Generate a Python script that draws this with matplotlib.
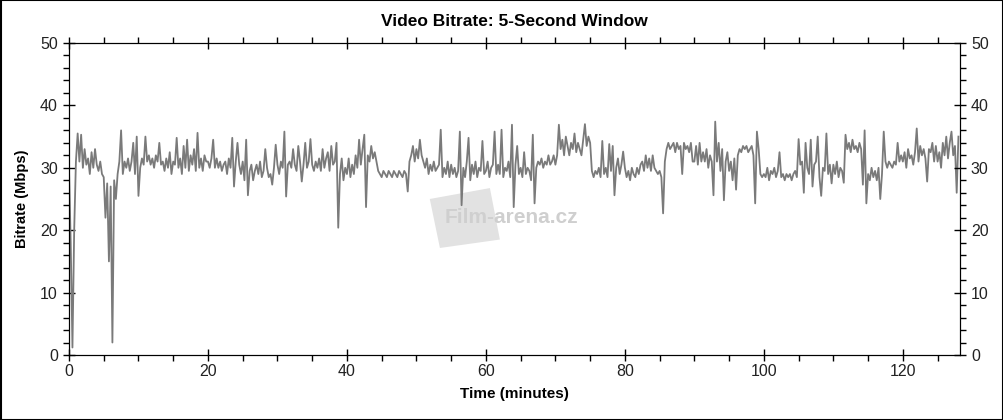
import numpy as np
import matplotlib
matplotlib.use("Agg")
import matplotlib.pyplot as plt
from matplotlib.patches import Rectangle, Polygon
from matplotlib.ticker import MultipleLocator

plt.rcParams['font.family'] = ['Liberation Sans', 'DejaVu Sans']

# bitrate (Mbps) sampled every 0.25 min, one list per 10 minutes
seg_00 = [30, 18, 1.2, 20, 31, 35.5, 31, 35.3, 30, 33, 30.5, 31.5, 29, 32.5, 30, 33,
          30.5, 29.5, 31, 29, 28.5, 22, 27.5, 15, 27, 2, 28, 25, 29, 31, 36, 29,
          31, 30, 31.5, 29.5, 31, 34, 29, 35]
seg_10 = [25.5, 30, 31.5, 30.5, 35, 31, 32, 30.5, 31.5, 30, 32, 31, 34, 30.5, 31, 29.5,
          31.5, 30, 32.5, 29, 31, 30.5, 34.8, 30, 31.5, 29, 33.5, 30, 34.5, 29.5, 32, 30.5,
          33, 29.5, 35.6, 30, 31.5, 29.5, 32, 31]
seg_20 = [31, 30, 31.5, 34.5, 30, 31.5, 30, 31, 29.5, 30.5, 31, 29, 31.5, 30, 34.8, 27,
          31, 34, 30.5, 29, 31, 28, 34.5, 25.6, 29.5, 30.5, 28, 29.5, 30.5, 29, 31, 28.5,
          29.5, 33, 30, 28.5, 29, 27.3, 30, 33.7]
seg_30 = [30.5, 29, 31, 30, 35.8, 25.4, 30.5, 31, 30, 33, 30.5, 29.5, 33.5, 31, 27.8, 30.5,
          34, 30, 31, 34.6, 30.5, 29.5, 31, 30, 31.5, 29.5, 33, 30, 31.5, 32.5, 29.5, 33.5,
          30.5, 31, 34, 20.4, 29, 31.5, 28, 30]
seg_40 = [29, 31.5, 28.5, 30.5, 29, 32, 30, 34.5, 30.5, 33, 35.3, 23.7, 32, 31, 33.5, 31.5,
          32.5, 31, 29.5, 29, 28.5, 29.5, 29, 28.5, 29.5, 29, 28.5, 29.5, 29, 28.5, 29.5, 29,
          28.5, 29.5, 29, 26.2, 31, 32, 33.5, 31]
seg_50 = [33, 31.5, 34.5, 32, 31, 30, 31.5, 29, 30.5, 29.5, 31, 29.5, 30, 30.5, 36.1, 28.5,
          30, 29, 31, 28.5, 30.5, 29, 30, 28.5, 29.5, 35.8, 24, 30, 28.5, 31, 34.8, 28,
          30.5, 29, 31, 28.5, 30, 29.5, 34.3, 29]
seg_60 = [29.5, 31, 28.5, 30, 30.5, 35.8, 29, 30.5, 29, 36.1, 28.5, 30, 29.5, 31, 28.5, 36.9,
          23.7, 30.5, 33.5, 29, 30, 28.5, 32.5, 29, 30, 29.5, 28, 35.3, 24.3, 30, 31, 30.5,
          31.5, 30, 31, 30.5, 32, 30.5, 31, 32]
seg_70 = [30.5, 32, 36.9, 33, 34.5, 32, 35, 33.5, 32, 34, 33, 35.5, 32.5, 34, 33, 32,
          34.5, 37, 33.5, 35, 34, 29.5, 28.5, 29.5, 29, 30, 28.5, 34.3, 29, 30, 28.5, 33.8,
          29.5, 33.5, 25.6, 30, 31.5, 29, 30.5, 32.6]
seg_80 = [30, 28.5, 29.5, 28, 30, 29, 28.5, 30, 29, 30.5, 31, 29.5, 32, 30, 31.5, 29.5,
          32, 30, 29.5, 29, 29.5, 28.5, 22.7, 31, 33, 34, 33, 33.5, 34, 32.5, 34, 33,
          33.5, 29, 34, 33, 33.5, 32.5, 34, 31]
seg_90 = [31, 33.5, 30.5, 34, 31, 32.5, 31, 33, 30, 32, 31, 25.6, 37.4, 31, 34, 29.5,
          33, 24.8, 31, 32.5, 29.5, 31, 28, 31.5, 26.5, 32, 33, 32.5, 33.5, 33, 33.5, 32.5,
          33, 33.5, 32, 24.3, 35.8, 33, 29, 28.5]
seg_100 = [29, 28.5, 30, 28, 29.5, 29, 30, 28.5, 29.5, 32.5, 28.5, 29, 28, 29, 28.5, 29,
           28, 29, 29.5, 28.5, 34.6, 30.5, 31, 26, 34, 30, 29, 34.5, 27, 30.5, 31, 35,
           28.5, 25.5, 30, 29.5, 35.5, 29, 30.5, 27.5]
seg_110 = [30.5, 29, 31, 28.5, 30, 29.5, 27.6, 35.3, 33, 34, 32.5, 34.5, 33, 33.5, 32.5, 34,
           33, 27.3, 36, 24.3, 29, 28, 30, 28.5, 29.5, 28, 30, 25, 29, 35.8, 31, 30,
           31, 30.5, 30, 31, 30.5, 34, 31, 32]
seg_120 = [31, 32.5, 30, 33, 31.5, 32, 30.5, 32.5, 36.3, 31, 33.5, 32, 33, 31.5, 27.8, 33,
           32.5, 34, 31, 33.5, 31, 32.5, 30, 34, 32, 35, 31.5, 34, 35.8, 32, 33.5, 26, 35]

bitrate = np.array(seg_00 + seg_10 + seg_20 + seg_30 + seg_40 + seg_50 + seg_60 +
                   seg_70 + seg_80 + seg_90 + seg_100 + seg_110 + seg_120)
minutes = np.arange(len(bitrate)) * 0.25

fig = plt.figure(figsize=(10.04, 4.2), dpi=100)
ax = fig.add_axes([0.0687, 0.1548, 0.8873, 0.7428])

# faint watermark (clapperboard + site name)
ax.add_patch(Polygon([(0.405, 0.50), (0.4725, 0.535), (0.4837, 0.37), (0.4164, 0.343)],
                     closed=True, transform=ax.transAxes, facecolor='#e2e2e2',
                     edgecolor='none', zorder=0))
ax.text(0.497, 0.44, 'Film-arena.cz', transform=ax.transAxes, fontsize=15,
        fontweight='bold', color='#cfcfcf', ha='center', va='center', zorder=1)
ax.plot(minutes, bitrate, color='#7a7a7a', lw=1.3, zorder=2)

ax.set_xlim(0, 128.2)
ax.set_ylim(0, 50)
ax.xaxis.set_major_locator(MultipleLocator(20))
ax.xaxis.set_minor_locator(MultipleLocator(5))
ax.yaxis.set_major_locator(MultipleLocator(10))
ax.yaxis.set_minor_locator(MultipleLocator(2))
ax.tick_params(which='major', direction='inout', length=9, width=1,
               labelsize=11.5, labelcolor='#222222', top=True)
ax.tick_params(which='minor', direction='out', length=4, width=1, top=True)
ax.tick_params(axis='x', which='both', pad=2)

ax2 = ax.twinx()
ax2.set_ylim(0, 50)
ax2.yaxis.set_major_locator(MultipleLocator(10))
ax2.yaxis.set_minor_locator(MultipleLocator(2))
ax2.tick_params(which='major', direction='inout', length=9, width=1,
                labelsize=11.5, labelcolor='#222222')
ax2.tick_params(which='minor', direction='out', length=4, width=1)

ax.set_title('Video Bitrate: 5-Second Window', fontsize=12.5, fontweight='bold', pad=12)
ax.set_xlabel('Time (minutes)', fontsize=11, fontweight='bold', labelpad=6)
ax.set_ylabel('Bitrate (Mbps)', fontsize=10.5, fontweight='bold', labelpad=8)

fig.patches.append(Rectangle((0.0005, 0.001), 0.999, 0.998, transform=fig.transFigure,
                             fill=False, edgecolor='black', lw=1.5))

fig.savefig('out.png', dpi=100)
